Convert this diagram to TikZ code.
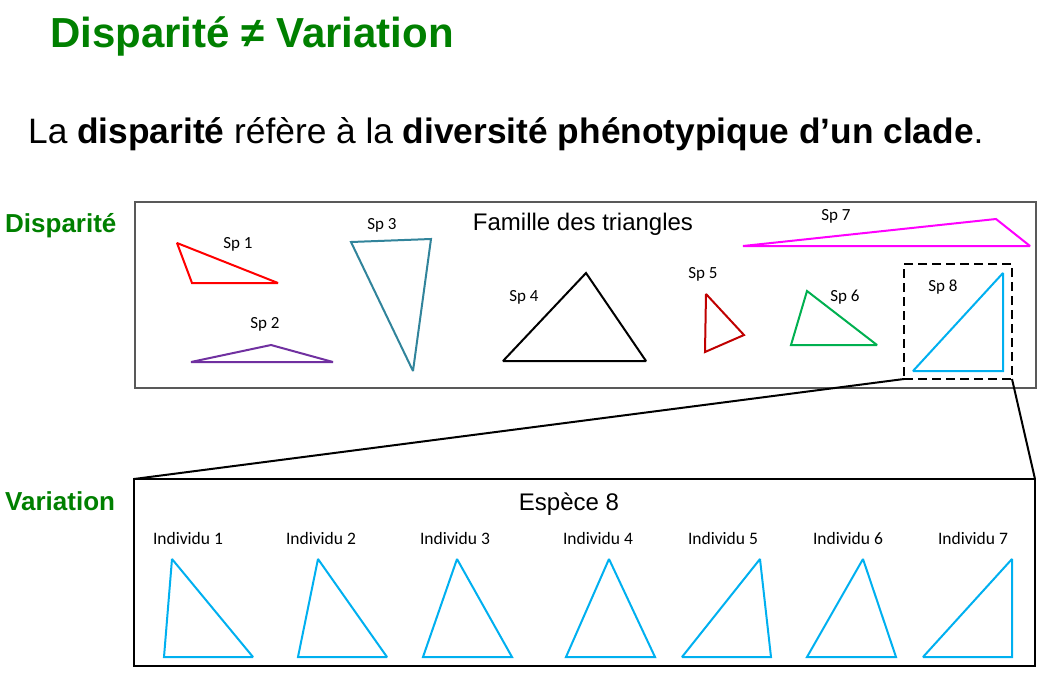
\documentclass[tikz,border=0pt]{standalone}
\usepackage{fontspec}
\setmainfont{Liberation Sans}
\newfontfamily\calib{Carlito}
\definecolor{titlegreen}{HTML}{008000}
\definecolor{sptwo}{HTML}{7030A0}
\definecolor{spthree}{HTML}{31849B}
\definecolor{spfive}{HTML}{C00000}
\definecolor{spsix}{HTML}{00B050}
\definecolor{spseven}{HTML}{FF00FF}
\definecolor{speight}{HTML}{00B0F0}
\definecolor{boxgray}{HTML}{595959}
\begin{document}
\begin{tikzpicture}[x=1pt,y=-1pt,
  tri/.style={line width=2pt, line join=miter, miter limit=2},
  splabel/.style={inner sep=0pt, font=\calib\fontsize{17}{20}\selectfont},
  indlabel/.style={inner sep=0pt, font=\calib\fontsize{17.5}{20}\selectfont},
  sidelabel/.style={inner sep=0pt, anchor=base west, text=titlegreen, font=\bfseries\fontsize{26}{30}\selectfont},
  boxlabel/.style={inner sep=0pt, anchor=base, font=\fontsize{24}{28}\selectfont},
  conn/.style={line width=2pt, black}
]
\useasboundingbox (0,0) rectangle (1061,678);
\fill[white] (0,0) rectangle (1061,678);

% titles
\node[inner sep=0pt, anchor=base west, text=titlegreen, font=\bfseries\fontsize{42}{50}\selectfont] (title) at (50,47) {Disparité ≠ Variation};
\node[inner sep=0pt, anchor=base west, font=\fontsize{35.3}{42}\selectfont] (subtitle) at (28,143) {La \textbf{disparité} réfère à la \textbf{diversité phénotypique d’un clade}.};

% side labels
\node[sidelabel] (lbldisp) at (5,232) {Disparité};
\node[sidelabel] (lblvar) at (5,510) {Variation};

% top box
\node[draw=boxgray, line width=1.5pt, minimum width=901pt, minimum height=186pt, inner sep=0pt, outer sep=0pt, anchor=north west] (dispbox) at (135,202) {};
\node[boxlabel] (famille) at (583,230) {Famille des triangles};

% species
\draw[tri, red] (177,243) -- (192,283) -- (278,283) -- cycle;
\node[splabel] (sp1) at (238,244) {Sp 1};
\draw[tri, sptwo] (191,362) -- (271,345) -- (333,362) -- cycle;
\node[splabel] (sp2) at (265,324) {Sp 2};
\draw[tri, spthree] (351,242) -- (431,239) -- (413,371) -- cycle;
\node[splabel] (sp3) at (382,225) {Sp 3};
\draw[tri, black] (503,361) -- (586,273) -- (646,361) -- cycle;
\node[splabel] (sp4) at (524,297) {Sp 4};
\draw[tri, spfive] (706,294) -- (744,335) -- (705,352) -- cycle;
\node[splabel] (sp5) at (703,274) {Sp 5};
\draw[tri, spsix] (807,291) -- (877,345) -- (791,345) -- cycle;
\node[splabel] (sp6) at (845,297) {Sp 6};
\draw[tri, spseven] (743,246) -- (996,219) -- (1030,246) -- cycle;
\node[splabel] (sp7) at (836,216) {Sp 7};
\draw[tri, speight] (913,371) -- (1003,273) -- (1003,371) -- cycle;
\node[splabel] (sp8) at (943,287) {Sp 8};

% dashed selection
\node[draw=black, line width=2.2pt, dash pattern=on 9pt off 5pt, minimum width=108pt, minimum height=115pt, inner sep=0pt, outer sep=0pt, anchor=north west] (sp8box) at (904,264) {};

% bottom box
\node[draw=black, line width=2.5pt, minimum width=901pt, minimum height=187pt, inner sep=0pt, outer sep=0pt, anchor=north west] (varbox) at (134,479) {};
\node[boxlabel] (espece) at (569,510) {Espèce 8};

% connectors
\draw[conn] (sp8box.south west) -- (varbox.north west);
\draw[conn] (sp8box.south east) -- (varbox.north east);

% individuals
\draw[tri, speight] (172,559) -- (164,657) -- (253,657) -- cycle;
\node[indlabel] (ind1) at (188,538) {Individu 1};
\draw[tri, speight] (318,559) -- (298,657) -- (387,657) -- cycle;
\node[indlabel] (ind2) at (321,538) {Individu 2};
\draw[tri, speight] (457,559) -- (423,657) -- (512,657) -- cycle;
\node[indlabel] (ind3) at (455,538) {Individu 3};
\draw[tri, speight] (609,559) -- (566,657) -- (655,657) -- cycle;
\node[indlabel] (ind4) at (598,538) {Individu 4};
\draw[tri, speight] (760,559) -- (682,657) -- (771,657) -- cycle;
\node[indlabel] (ind5) at (723,538) {Individu 5};
\draw[tri, speight] (863,559) -- (807,657) -- (896,657) -- cycle;
\node[indlabel] (ind6) at (848,538) {Individu 6};
\draw[tri, speight] (1012,559) -- (923,657) -- (1012,657) -- cycle;
\node[indlabel] (ind7) at (973,538) {Individu 7};
\end{tikzpicture}
\end{document}
